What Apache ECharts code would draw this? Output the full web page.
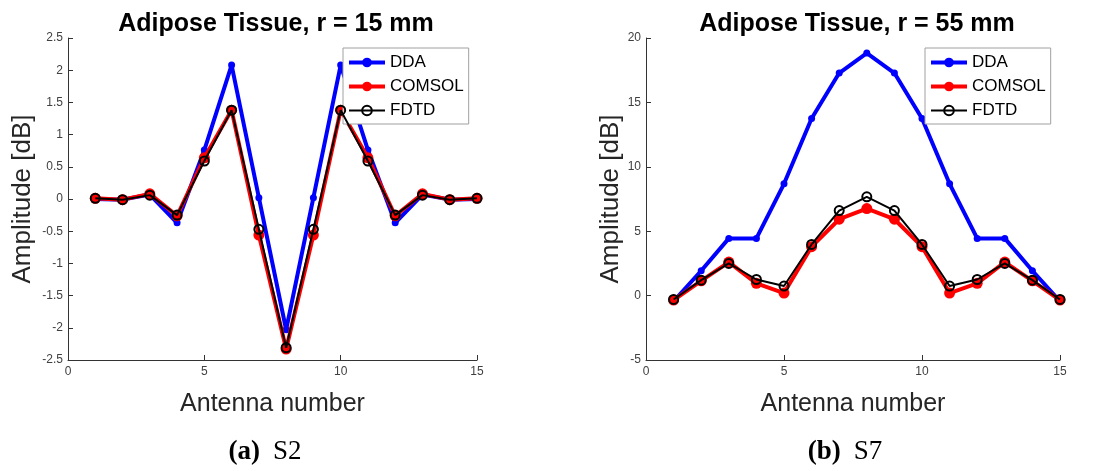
<!DOCTYPE html>
<html>
<head>
<meta charset="utf-8">
<script src="https://cdn.jsdelivr.net/npm/echarts@6/dist/echarts.min.js"></script>
<style>html,body{margin:0;padding:0;background:#fff;}#c{width:1094px;height:471px;}</style>
</head>
<body>
<div id="c"></div>
<script>
const antennas = [1,2,3,4,5,6,7,8,9,10,11,12,13,14,15];
// S2, r = 15 mm
const s2DDA    = [0.00,-0.01,0.07,-0.37,0.76,2.08,0.02,-2.03,0.02,2.08,0.76,-0.37,0.07,-0.01,0.00];
const s2COMSOL = [0.01,-0.01,0.08,-0.26,0.64,1.38,-0.56,-2.33,-0.56,1.38,0.64,-0.26,0.08,-0.01,0.01];
const s2FDTD   = [0.01,-0.01,0.06,-0.25,0.59,1.38,-0.47,-2.31,-0.47,1.38,0.59,-0.25,0.06,-0.01,0.01];
// S7, r = 55 mm
const s7DDA    = [-0.45,1.93,4.44,4.44,8.68,13.75,17.28,18.83,17.28,13.75,8.68,4.44,4.44,1.93,-0.45];
const s7COMSOL = [-0.35,1.15,2.6,0.95,0.2,3.8,5.93,6.76,5.93,3.8,0.2,0.95,2.6,1.15,-0.35];
const s7FDTD   = [-0.3,1.2,2.5,1.25,0.74,3.97,6.6,7.67,6.6,3.97,0.74,1.25,2.5,1.2,-0.3];

const titles = ['Adipose Tissue, r = 15 mm', 'Adipose Tissue, r = 55 mm'];
const captions = [['(a)', 'S2'], ['(b)', 'S7']];
const seriesNames = ['DDA', 'COMSOL', 'FDTD'];

const pair = (ys) => antennas.map((x, i) => [x, ys[i]]);
const FONT = '"Liberation Sans", Arial, sans-serif';
const SERIF = '"Liberation Serif", "DejaVu Serif", serif';
const AX = '#333333';

function xAxis(gi) {
  return {
    type: 'value', gridIndex: gi, min: 0, max: 15, interval: 5,
    name: 'Antenna number', nameLocation: 'middle', nameGap: 32,
    nameTextStyle: { fontFamily: FONT, fontSize: 25, color: '#262626' },
    axisLine: { onZero: false, lineStyle: { color: AX, width: 1 } },
    axisTick: { inside: true, length: 5, lineStyle: { color: AX } },
    axisLabel: { fontFamily: FONT, fontSize: 12, color: '#404040', margin: 6 },
    splitLine: { show: false }
  };
}
function yAxis(gi, min, max, interval, gap) {
  return {
    type: 'value', gridIndex: gi, min: min, max: max, interval: interval,
    name: 'Amplitude [dB]', nameLocation: 'middle', nameGap: gap,
    nameTextStyle: { fontFamily: FONT, fontSize: 26, color: '#262626' },
    axisLine: { show: true, onZero: false, lineStyle: { color: AX, width: 1 } },
    axisTick: { show: true, inside: true, length: 5, lineStyle: { color: AX } },
    axisLabel: { fontFamily: FONT, fontSize: 12, color: '#404040', margin: 5 },
    splitLine: { show: false }
  };
}
function mkSeries(gi, dda, comsol, fdtd) {
  return [
    { name: 'DDA', type: 'line', xAxisIndex: gi, yAxisIndex: gi, data: pair(dda),
      symbol: 'circle', symbolSize: 7, lineStyle: { color: '#0000ff', width: 4 },
      itemStyle: { color: '#0000ff' }, z: 2, animation: false },
    { name: 'COMSOL', type: 'line', xAxisIndex: gi, yAxisIndex: gi, data: pair(comsol),
      symbol: 'circle', symbolSize: 11, lineStyle: { color: '#ff0000', width: 4 },
      itemStyle: { color: '#ff0000' }, z: 3, animation: false },
    { name: 'FDTD', type: 'line', xAxisIndex: gi, yAxisIndex: gi, data: pair(fdtd),
      symbol: 'circle', symbolSize: 9, lineStyle: { color: '#000000', width: 2 },
      itemStyle: { color: 'rgba(0,0,0,0)', borderColor: '#000000', borderWidth: 2 }, z: 4, animation: false }
  ];
}
function legend(left) {
  return {
    data: [
      { name: seriesNames[0], lineStyle: { width: 4 } },
      { name: seriesNames[1], lineStyle: { width: 4 } },
      { name: seriesNames[2], lineStyle: { width: 2 } }
    ],
    orient: 'vertical', left: left, top: 48,
    itemWidth: 36, itemHeight: 12, itemGap: 7, padding: [6, 5, 5, 4],
    backgroundColor: '#ffffff', borderColor: '#a0a0a0', borderWidth: 1, borderRadius: 0,
    textStyle: { fontFamily: FONT, fontSize: 17, color: '#000' },
    selectedMode: false
  };
}
function caption(cx, c) {
  return {
    type: 'text', x: cx, y: 452, style: {
      text: '{b|' + c[0] + '}{r|' + c[1] + '}',
      rich: {
        b: { fontFamily: SERIF, fontWeight: 'bold', fontSize: 27, fill: '#000', padding: [0, 13, 0, 0] },
        r: { fontFamily: SERIF, fontSize: 27, fill: '#000' }
      },
      align: 'center', verticalAlign: 'middle', textAlign: 'center', textVerticalAlign: 'middle'
    }
  };
}

const chart = echarts.init(document.getElementById('c'), null, { renderer: 'canvas' });
chart.setOption({
  backgroundColor: '#ffffff',
  animation: false,
  title: [
    { text: titles[0], left: 271, top: 7, textAlign: 'center',
      textStyle: { fontFamily: FONT, fontSize: 25, fontWeight: 'bold', color: '#000' } },
    { text: titles[1], left: 852, top: 7, textAlign: 'center',
      textStyle: { fontFamily: FONT, fontSize: 25, fontWeight: 'bold', color: '#000' } }
  ],
  legend: [legend(343), legend(925)],
  grid: [
    { left: 68, top: 38, width: 409, height: 322 },
    { left: 646, top: 38, width: 414, height: 322 }
  ],
  xAxis: [xAxis(0), xAxis(1)],
  yAxis: [yAxis(0, -2.5, 2.5, 0.5, 32), yAxis(1, -5, 20, 5, 22)],
  series: [].concat(mkSeries(0, s2DDA, s2COMSOL, s2FDTD), mkSeries(1, s7DDA, s7COMSOL, s7FDTD)),
  graphic: [caption(265, captions[0]), caption(845, captions[1])]
});
</script>
</body>
</html>
